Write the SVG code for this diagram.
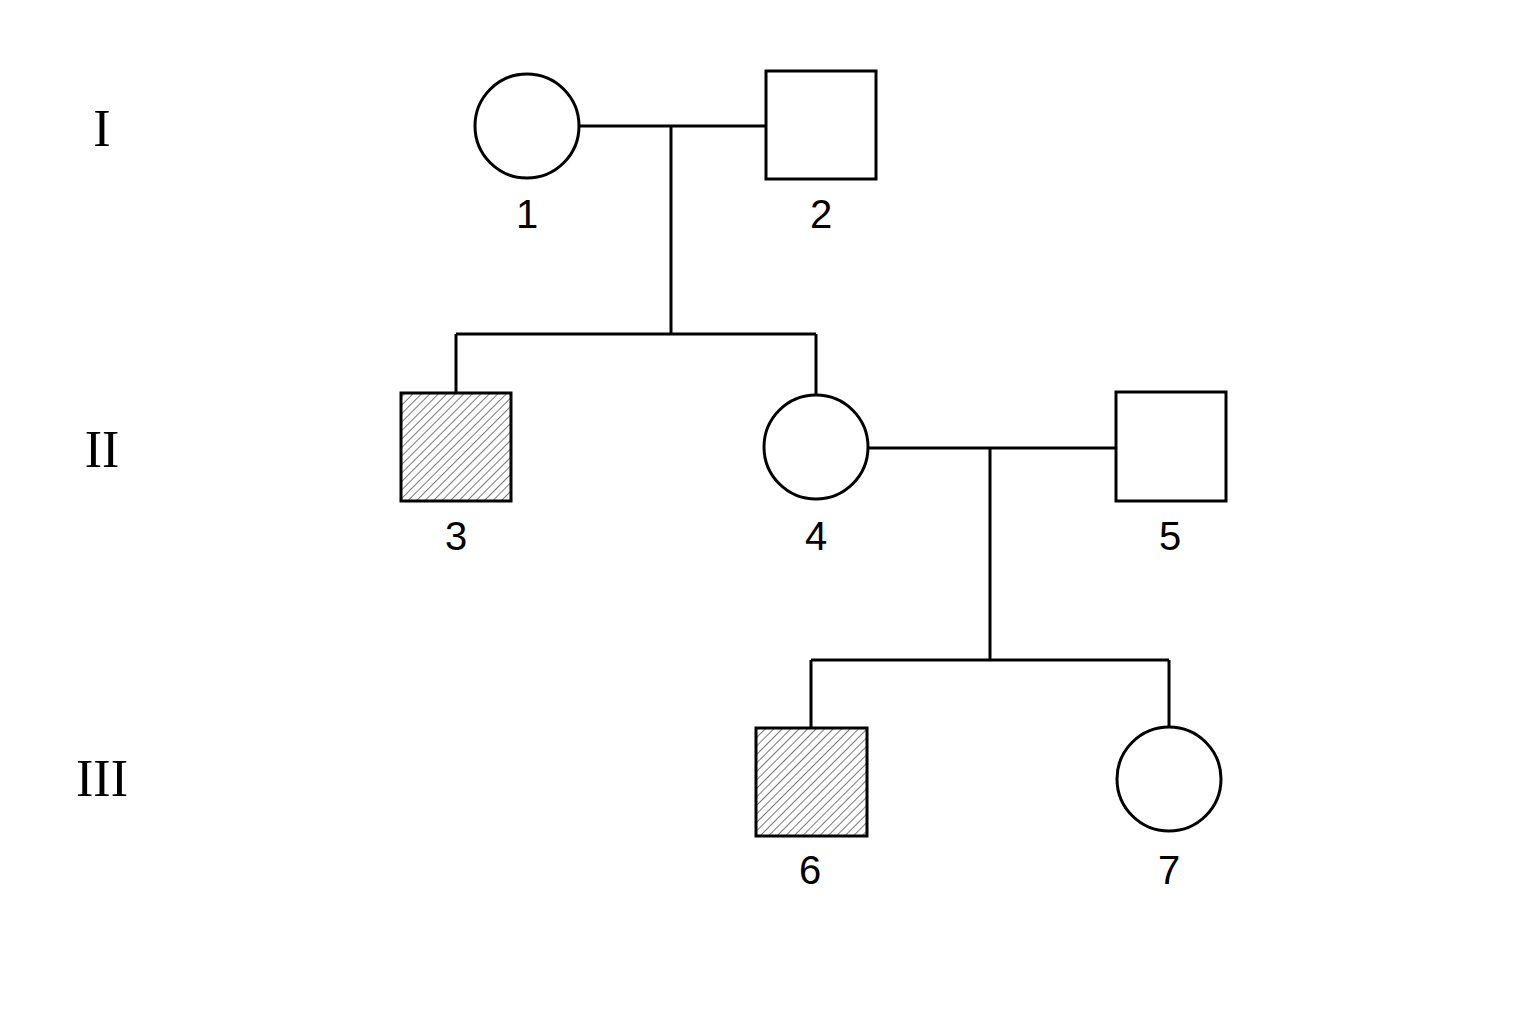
<svg xmlns="http://www.w3.org/2000/svg" width="1536" height="1024" viewBox="0 0 1536 1024">
<style>
.s{fill:#fff;stroke:#000;stroke-width:3}
.h{fill:url(#hatch);stroke:#000;stroke-width:3}
.l{stroke:#000;stroke-width:3;fill:none}
.n{font-family:"Liberation Sans",Arial,sans-serif;font-size:40px;text-anchor:middle}
.g{font-family:"Liberation Serif","Times New Roman",serif;font-size:52px;text-anchor:middle}
</style>
<defs>
<pattern id="hatch" width="6" height="6" patternUnits="userSpaceOnUse" patternTransform="rotate(45)">
<rect width="6" height="6" fill="#fff"/>
<line x1="0" y1="0" x2="0" y2="6" stroke="#333" stroke-width="1.3"/>
</pattern>
</defs>
<rect width="1536" height="1024" fill="#fff"/>
<g id="gen-labels">
<text class="g" x="102" y="146">I</text>
<text class="g" x="102" y="467">II</text>
<text class="g" x="102" y="796">III</text>
</g>
<g id="connectors">
<path class="l" d="M579 126H766M671 126V334M456 334H816M456 334V393M816 334V394"/>
<path class="l" d="M867 448H1116M990 448V660M811 660H1169M811 660V728M1169 660V726"/>
</g>
<g id="n1"><circle class="s" cx="527" cy="126" r="52"/><text class="n" x="527" y="228">1</text></g>
<g id="n2"><rect class="s" x="766" y="71" width="110" height="108"/><text class="n" x="821" y="228">2</text></g>
<g id="n3"><rect class="h" x="401" y="393" width="110" height="108"/><text class="n" x="456" y="550">3</text></g>
<g id="n4"><circle class="s" cx="816" cy="447" r="52"/><text class="n" x="816" y="550">4</text></g>
<g id="n5"><rect class="s" x="1116" y="392" width="110" height="109"/><text class="n" x="1170" y="550">5</text></g>
<g id="n6"><rect class="h" x="756" y="728" width="111" height="108"/><text class="n" x="810" y="884">6</text></g>
<g id="n7"><circle class="s" cx="1169" cy="779" r="52"/><text class="n" x="1169" y="884">7</text></g>
</svg>
